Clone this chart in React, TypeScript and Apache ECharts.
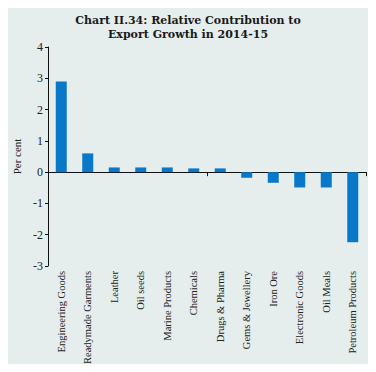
import React, { useEffect, useRef } from "react";
import * as echarts from "echarts";

const categories = [
  "Engineering Goods",
  "Readymade Garments",
  "Leather",
  "Oil seeds",
  "Marine Products",
  "Chemicals",
  "Drugs & Pharma",
  "Gems & Jewellery",
  "Iron Ore",
  "Electronic Goods",
  "Oil Meals",
  "Petroleum Products",
];
const values = [2.9, 0.6, 0.15, 0.15, 0.15, 0.12, 0.12, -0.18, -0.34, -0.49, -0.49, -2.24];
const titleLines = ["Chart II.34: Relative Contribution to", "Export Growth in 2014-15"];
const yName = "Per cent";

const serif = "Liberation Serif";

export default function App() {
  const ref = useRef<HTMLDivElement>(null);
  useEffect(() => {
    if (!ref.current) return;
    const chart = echarts.init(ref.current, null, { renderer: "svg" });
    chart.setOption({
      animation: false,
      backgroundColor: "#e5eeec",
      title: {
        text: titleLines.join("\n"),
        left: "center",
        top: 8,
        textStyle: {
          fontFamily: "DejaVu Serif",
          fontWeight: "bold",
          fontSize: 11,
          lineHeight: 14,
          color: "#1a1a1a",
        },
      },
      grid: { left: 48, right: 10, top: 47, bottom: 106, containLabel: false },
      xAxis: [
        {
          type: "category",
          data: categories,
          position: "bottom",
          axisLine: { onZero: true, lineStyle: { color: "#111", width: 1 } },
          axisTick: { show: true, length: 4, inside: false, lineStyle: { color: "#111" } },
          axisLabel: { show: false },
        },
        {
          type: "category",
          data: categories,
          position: "bottom",
          axisLine: { show: false, onZero: false },
          axisTick: { show: false },
          axisLabel: {
            show: true,
            rotate: 90,
            interval: 0,
            margin: 5,
            fontFamily: serif,
            fontSize: 10.5,
            color: "#222",
          },
        },
      ],
      yAxis: {
        type: "value",
        min: -3,
        max: 4,
        interval: 1,
        name: yName,
        nameLocation: "middle",
        nameGap: 20,
        nameTextStyle: { fontFamily: serif, fontSize: 11, color: "#222" },
        axisLine: { show: true, lineStyle: { color: "#111" } },
        axisTick: { show: true, length: 3, lineStyle: { color: "#111" } },
        axisLabel: { fontFamily: serif, fontSize: 12, color: "#222", margin: 5 },
        splitLine: { show: false },
      },
      series: [
        {
          type: "bar",
          xAxisIndex: 0,
          data: values,
          barWidth: 11,
          itemStyle: { color: "#0a78c8" },
        },
      ],
    });
    return () => chart.dispose();
  }, []);
  return <div ref={ref} style={{ width: 376, height: 372, margin: -8 }} />;
}
